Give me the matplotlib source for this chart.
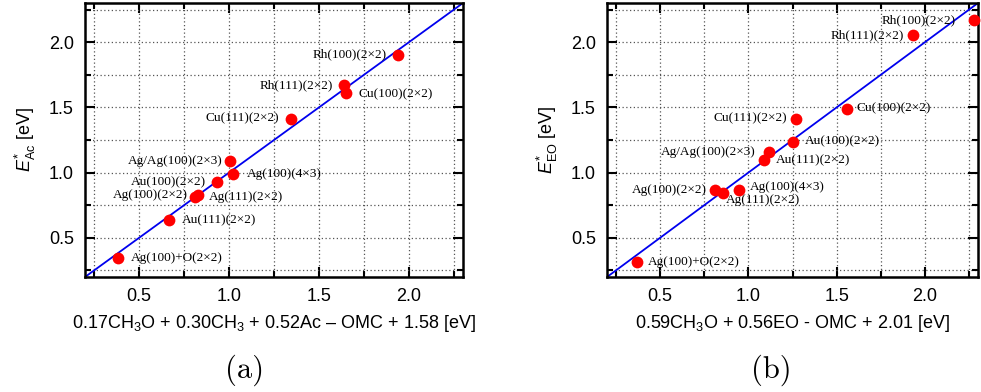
import matplotlib

matplotlib.use("Agg")
import matplotlib.pyplot as plt
import numpy as np
from matplotlib.ticker import MultipleLocator

plt.rcParams["font.family"] = ["Liberation Sans", "DejaVu Sans"]
plt.rcParams["mathtext.fontset"] = "custom"
plt.rcParams["mathtext.rm"] = "Liberation Sans"
plt.rcParams["mathtext.it"] = "Liberation Sans:italic"

# panel (a): acetaldehyde-type scaling
labels_a = [
    "Ag(100)+O(2×2)", "Au(111)(2×2)", "Ag(100)(2×2)", "Ag(111)(2×2)",
    "Au(100)(2×2)", "Ag/Ag(100)(2×3)", "Ag(100)(4×3)", "Cu(111)(2×2)",
    "Rh(111)(2×2)", "Cu(100)(2×2)", "Rh(100)(2×2)",
]
fit_a = [0.384, 0.665, 0.810, 0.829, 0.935, 1.005, 1.021, 1.345, 1.639, 1.652, 1.937]
dft_a = [0.342, 0.635, 0.810, 0.830, 0.929, 1.092, 0.992, 1.413, 1.671, 1.610, 1.904]

# panel (b): ethylene oxide scaling
labels_b = [
    "Ag(100)+O(2×2)", "Ag(100)(2×2)", "Ag(111)(2×2)", "Ag(100)(4×3)",
    "Au(111)(2×2)", "Ag/Ag(100)(2×3)", "Au(100)(2×2)", "Cu(111)(2×2)",
    "Cu(100)(2×2)", "Rh(111)(2×2)", "Rh(100)(2×2)",
]
fit_b = [0.370, 0.813, 0.858, 0.945, 1.087, 1.119, 1.251, 1.270, 1.557, 1.934, 2.280]
dft_b = [0.313, 0.870, 0.845, 0.870, 1.094, 1.158, 1.237, 1.413, 1.490, 2.054, 2.170]

# label offsets in pixels (dx, dy) relative to each marker
offsets_a = [(13, 0), (13, 0), (-7, 2), (11, -2), (-11, 0), (-7, 0),
             (14, 0), (-12, 0), (-11, 0), (12, -1), (-11, 0)]
offsets_b = [(11, 0), (-8, 0), (3, -7), (11, 3), (12, 0), (-14, 0),
             (12, 0), (-9, 0), (10, 0), (-9, 0), (-19, 0)]

AXIS_RANGE = (0.2, 2.3)


def draw_panel(ax, fit, dft, labels, offsets, xlabel, ylabel):
    ax.plot(AXIS_RANGE, AXIS_RANGE, color="#0000ee", lw=1.3, zorder=2)
    ax.scatter(fit, dft, s=72, color="#ff0000", zorder=3, clip_on=False, linewidths=0)
    for x, y, text, (dx, dy) in zip(fit, dft, labels, offsets):
        ax.annotate(
            text, (x, y), xytext=(dx * 0.72, dy * 0.72), textcoords="offset points",
            ha="left" if dx > 0 else "right", va="center",
            fontsize=9.5, family=["Liberation Serif", "DejaVu Serif"], zorder=4,
        )
    ax.set_xlim(*AXIS_RANGE)
    ax.set_ylim(*AXIS_RANGE)
    ax.xaxis.set_major_locator(MultipleLocator(0.5))
    ax.yaxis.set_major_locator(MultipleLocator(0.5))
    ax.xaxis.set_minor_locator(MultipleLocator(0.25))
    ax.yaxis.set_minor_locator(MultipleLocator(0.25))
    ax.xaxis.set_major_formatter(plt.FormatStrFormatter("%.1f"))
    ax.yaxis.set_major_formatter(plt.FormatStrFormatter("%.1f"))
    ax.tick_params(which="both", direction="in", top=True, right=True, labelsize=13, width=1.5)
    ax.tick_params(which="major", length=7, pad=8)
    ax.tick_params(which="minor", length=4)
    ax.grid(which="both", ls=(0, (1, 2)), color="#555555", lw=0.9)
    for spine in ax.spines.values():
        spine.set_linewidth(1.8)
    ax.set_xlabel(xlabel, fontsize=13, labelpad=6)
    ax.set_ylabel(ylabel, fontsize=13, labelpad=8)


fig = plt.figure(figsize=(9.81, 3.92), dpi=100)
ax_a = fig.add_axes([85 / 981, 1 - 277 / 392, 378 / 981, 274 / 392])
ax_b = fig.add_axes([607 / 981, 1 - 277 / 392, 371 / 981, 274 / 392])

draw_panel(
    ax_a, fit_a, dft_a, labels_a, offsets_a,
    r"0.17CH$_3$O + 0.30CH$_3$ + 0.52Ac – OMC + 1.58 [eV]",
    r"$E^{*}_{\mathrm{Ac}}$ [eV]",
)
draw_panel(
    ax_b, fit_b, dft_b, labels_b, offsets_b,
    r"0.59CH$_3$O + 0.56EO - OMC + 2.01 [eV]",
    r"$E^{*}_{\mathrm{EO}}$ [eV]",
)

fig.text(244.5 / 981, 1 - 370 / 392, "(a)", fontsize=22, family="cmr10", ha="center", va="center")
fig.text(771.7 / 981, 1 - 370 / 392, "(b)", fontsize=22, family="cmr10", ha="center", va="center")

fig.savefig("out.png", dpi=100)
